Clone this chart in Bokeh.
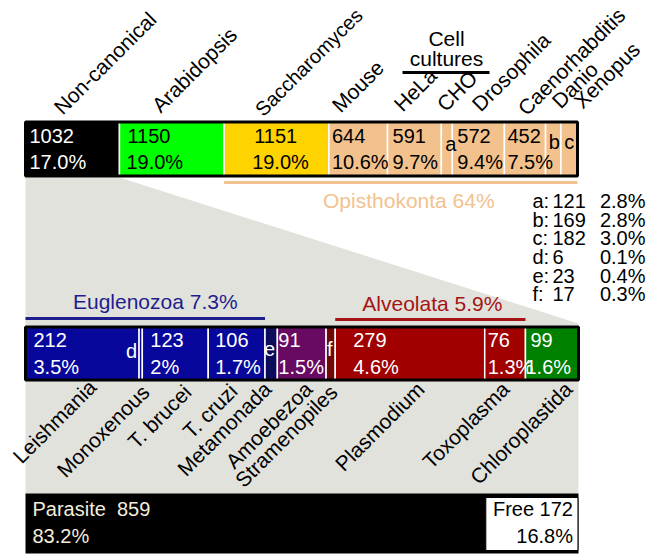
import math
import numpy as np
from bokeh.plotting import figure
from bokeh.models import Range1d
from bokeh.core.properties import value
from bokeh.embed import file_html
from bokeh.resources import INLINE

# ---------------- data ----------------
top_names = ["Non-canonical", "Arabidopsis", "Saccharomyces", "Mouse", "HeLa", "CHO",
             "Drosophila", "Caenorhabditis", "Danio", "Xenopus"]
top_counts = [1032, 1150, 1151, 644, 591, 121, 572, 452, 169, 182]
top_pcts = ["17.0%", "19.0%", "19.0%", "10.6%", "9.7%", "", "9.4%", "7.5%", "", ""]
top_keys = ["", "", "", "", "", "a", "", "", "b", "c"]

low_names = ["Leishmania", "Monoxenous", "T. brucei", "T. cruzi", "Metamonada", "Amoebezoa",
             "Stramenopiles", "Plasmodium", "Toxoplasma", "Chloroplastida"]
low_counts = [212, 6, 123, 106, 23, 91, 17, 279, 76, 99]
low_pcts = ["3.5%", "", "2%", "1.7%", "", "1.5%", "", "4.6%", "1.3%", "1.6%"]
low_keys = ["", "d", "", "", "e", "", "f", "", "", ""]

legend_keys = ["a", "b", "c", "d", "e", "f"]
legend_counts = ["121", "169", "182", "6", "23", "17"]
legend_pcts = ["2.8%", "2.8%", "3.0%", "0.1%", "0.4%", "0.3%"]

life_names = ["Parasite", "Free"]
life_counts = [859, 172]
life_pcts = ["83.2%", "16.8%"]

groups_top = [("Opisthokonta 64%", 2, 9)]
groups_low = [("Euglenozoa 7.3%", 0, 3), ("Alveolata 5.9%", 7, 8)]
cell_cultures = ["Cell", "cultures"]

# ---------------- styles / layout ----------------
FONT = value("Liberation Sans")
top_colors = ["#000000", "#00ff00", "#ffd300", "#f3c28c", "#f3c28c", "#f3c28c",
              "#f3c28c", "#f3c28c", "#f3c28c", "#f3c28c"]
top_txt = ["white"] + ["black"] * 9
low_colors = ["#07079c", "#07079c", "#07079c", "#07079c", "#0c0c5c", "#680a62",
              "#700808", "#a00000", "#a00000", "#008000"]
GRAY = "#e2e2dc"
TAN = "#f2c28e"
NAVY = "#1e1e8e"
DRED = "#a51414"

W, H = 650, 560
def Y(v):
    return H - v

TOP_L, TOP_R, TOP_T, TOP_B = 25, 577, 121.5, 175.5
LOW_L, LOW_R, LOW_T, LOW_B = 25, 578, 326.5, 379.5
k_top = sum(top_counts) / (TOP_R - TOP_L)
k_low = sum(low_counts) / (LOW_R - LOW_L)

p = figure(width=W, height=H, x_range=Range1d(0, W), y_range=Range1d(0, H),
           output_backend="svg", toolbar_location=None, min_border=0,
           x_axis_location=None, y_axis_location=None)
p.grid.visible = False
p.outline_line_color = None
p.background_fill_color = "white"
p.extra_x_ranges = {
    "top": Range1d(start=(0 - TOP_L) * k_top, end=(W - TOP_L) * k_top),
    "low": Range1d(start=(0 - LOW_L) * k_low, end=(W - LOW_L) * k_low),
}

tc = np.concatenate([[0], np.cumsum(top_counts)])
lc = np.concatenate([[0], np.cumsum(low_counts)])

TXT = dict(text_font=FONT, text_baseline="middle")

# gray zoom wedge (Non-canonical expanded)
nc_px = TOP_L + top_counts[0] / k_top
p.patch([TOP_L, nc_px, LOW_R, LOW_R, TOP_L], [Y(177), Y(177), Y(323), Y(494), Y(494)],
        fill_color=GRAY, line_color=None)

# ---------- top band ----------
p.quad(left=tc[:-1], right=tc[1:], top=Y(TOP_T), bottom=Y(TOP_B), fill_color=top_colors,
       line_color="white", line_width=1.5, x_range_name="top")
p.quad(left=[0], right=[tc[-1]], top=[Y(TOP_T)], bottom=[Y(TOP_B)], fill_color=None,
       line_color="black", line_width=3, x_range_name="top")

top_cnt_off = [4, 8, 30, 3, 5, 0, 5, 3, 0, 0]
top_pct_off = [4, 7, 28, 3, 5, 0, 5, 3, 0, 0]
idx = [i for i in range(10) if top_pcts[i]]
p.text(x=[tc[i] for i in idx], y=[Y(135)] * len(idx), text=[str(top_counts[i]) for i in idx],
       x_offset=[top_cnt_off[i] for i in idx], text_color=[top_txt[i] for i in idx],
       text_font_size="20px", x_range_name="top", **TXT)
p.text(x=[tc[i] for i in idx], y=[Y(161)] * len(idx), text=[top_pcts[i] for i in idx],
       x_offset=[top_pct_off[i] for i in idx], text_color=[top_txt[i] for i in idx],
       text_font_size="20px", x_range_name="top", **TXT)
kidx = [i for i in range(10) if top_keys[i]]
key_top_off = {5: 4, 8: 1, 9: 0}
key_top_y = {5: 143, 8: 141, 9: 141}
p.text(x=[(tc[i] + tc[i + 1]) / 2 for i in kidx], y=[Y(key_top_y[i]) for i in kidx],
       text=[top_keys[i] for i in kidx], x_offset=[key_top_off[i] for i in kidx],
       text_font_size="20px", text_align="center", x_range_name="top", **TXT)

# rotated top labels (anchored at their start)
top_lab_x = [57, 155, 258, 335, 397, 440, 475, 521, 555, 577]
top_lab_y = [110, 108, 112, 108, 107, 107, 107, 111, 104, 104]
top_lab_size = ["21px", "21px", "20px", "21px", "21px", "21px", "21px", "21px", "21px", "21px"]
p.text(x=top_lab_x, y=[Y(v) for v in top_lab_y], text=top_names, angle=math.pi / 4,
       text_font_size=top_lab_size, text_align="left", **TXT)

# cell cultures header
p.text(x=[446, 446], y=[Y(38), Y(58)], text=cell_cultures,
       text_font_size="21px", text_align="center", **TXT)
p.segment(x0=[402], y0=[Y(72)], x1=[489], y1=[Y(72)], line_color="black", line_width=3)

# Opisthokonta group
for name, a, b in groups_top:
    p.segment(x0=[tc[a]], y0=[Y(182)], x1=[tc[b + 1]], y1=[Y(182)], line_color=TAN,
              line_width=3, x_range_name="top")
    p.text(x=[(tc[a] + tc[b + 1]) / 2], y=[Y(200)], text=[name], text_color=TAN,
           text_font_size="21px", text_align="center", x_offset=[8],
           x_range_name="top", **TXT)

# legend a-f
leg_y = [200, 219, 237, 256, 275, 293]
p.text(x=[532] * 6, y=[Y(v) for v in leg_y], text=[k + ":" for k in legend_keys],
       text_font_size="20px", **TXT)
p.text(x=[552] * 6, y=[Y(v) for v in leg_y], text=legend_counts,
       text_font_size="20px", **TXT)
p.text(x=[645] * 6, y=[Y(v) for v in leg_y], text=legend_pcts,
       text_font_size="20px", text_align="right", **TXT)

# ---------- lower band ----------
p.quad(left=lc[:-1], right=lc[1:], top=Y(LOW_T), bottom=Y(LOW_B), fill_color=low_colors,
       line_color="white", line_width=1.5, x_range_name="low")
p.quad(left=[0], right=[lc[-1]], top=[Y(LOW_T)], bottom=[Y(LOW_B)], fill_color=None,
       line_color="black", line_width=3, x_range_name="low")

low_cnt_off = [8, 0, 8, 7, 0, 1, 0, 18, 3, 5]
low_pct_off = [8, 0, 8, 7, 0, 1, 0, 18, 3, 0]
idx = [i for i in range(10) if low_pcts[i]]
p.text(x=[lc[i] for i in idx], y=[Y(339)] * len(idx), text=[str(low_counts[i]) for i in idx],
       x_offset=[low_cnt_off[i] for i in idx], text_color="white",
       text_font_size="20px", x_range_name="low", **TXT)
p.text(x=[lc[i] for i in idx], y=[Y(366)] * len(idx), text=[low_pcts[i] for i in idx],
       x_offset=[low_pct_off[i] for i in idx], text_color="white",
       text_font_size="20px", x_range_name="low", **TXT)
kidx = [i for i in range(10) if low_keys[i]]
key_low_off = {1: -13, 4: -1, 6: 1}
key_low_y = {1: 350, 4: 348, 6: 348}
p.text(x=[lc[i] for i in kidx], y=[Y(key_low_y[i]) for i in kidx],
       text=[low_keys[i] for i in kidx], x_offset=[key_low_off[i] for i in kidx],
       text_color="white", text_font_size="20px", x_range_name="low", **TXT)

for (name, a, b), col, ty, ly, off in zip(groups_low, [NAVY, DRED], [301, 303], [318, 319], [10, 2]):
    p.segment(x0=[lc[a]], y0=[Y(ly)], x1=[lc[b + 1]], y1=[Y(ly)], line_color=col,
              line_width=3, x_range_name="low")
    p.text(x=[(lc[a] + lc[b + 1]) / 2], y=[Y(ty)], text=[name], text_color=col,
           text_font_size="21px", text_align="center", x_offset=[off],
           x_range_name="low", **TXT)

# rotated lower labels (anchored at their end)
low_lab_x = [92, 145, 187, 233, 267, 308, 333, 420, 505, 568]
low_lab_y = [383, 388, 388, 387, 385, 385, 388, 385, 385, 385]
p.text(x=low_lab_x, y=[Y(v) for v in low_lab_y], text=low_names, angle=math.pi / 4,
       text_font_size="21px", text_align="right", **TXT)

# ---------- parasite / free band ----------
p.quad(left=[0], right=[lc[-1]], top=[Y(493)], bottom=[Y(553)], fill_color="black",
       line_color=None, x_range_name="low")
p.quad(left=[life_counts[0]], right=[life_counts[0] + life_counts[1]], top=[Y(497)],
       bottom=[Y(550)], fill_color="white", line_color="black", line_width=1,
       x_range_name="low")
p.text(x=[0, 0], y=[Y(508), Y(535)],
       text=[f"{life_names[0]}\u00a0\u00a0{life_counts[0]}", life_pcts[0]],
       x_offset=[7, 7], text_color="#f4eddb", text_font_size="20px",
       x_range_name="low", **TXT)
p.text(x=[life_counts[0] + life_counts[1]] * 2, y=[Y(508), Y(535)],
       text=[f"{life_names[1]} {life_counts[1]}", life_pcts[1]],
       x_offset=[-5, -5], text_color="black", text_font_size="20px",
       text_align="right", x_range_name="low", **TXT)

open("out.html", "w").write(file_html(p, INLINE))
